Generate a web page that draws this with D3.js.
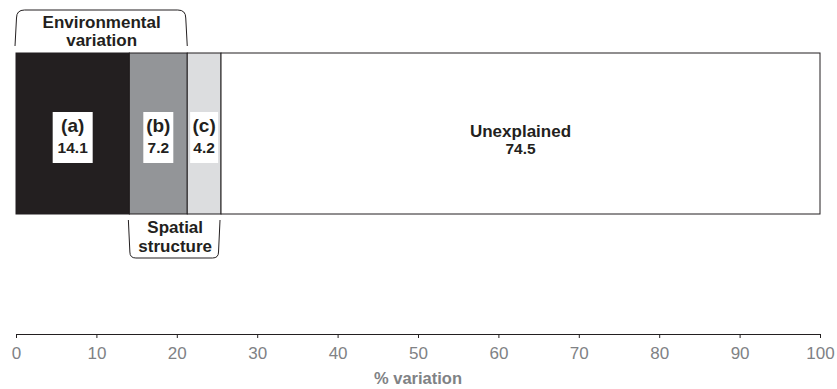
<!DOCTYPE html>
<html>
<head>
<meta charset="utf-8">
<script src="https://cdn.jsdelivr.net/npm/d3@7"></script>
<style>
  body { margin: 0; background: #fff; }
  svg { font-family: "Liberation Sans", Arial, sans-serif; }
</style>
</head>
<body>
<div id="chart"></div>
<script>
var svgWidth = 837;
var svgHeight = 389;

// fractions of variation (%)
var parts = ["(a)", "(b)", "(c)", "Unexplained"];
var values = [14.1, 7.2, 4.2, 74.5];
var fills = ["#231f20", "#939598", "#dcdddf", "#ffffff"];
var xTicks = [0, 10, 20, 30, 40, 50, 60, 70, 80, 90, 100];

var x = d3.scaleLinear().domain([0, 100]).range([16, 820]);

var barTop = 53, barBottom = 214;
var ink = "#231f20";

var svg = d3.select("#chart").append("svg")
    .attr("width", svgWidth)
    .attr("height", svgHeight);

// stack the segments
var segs = [];
var acc = 0;
values.forEach(function(v, i) {
    segs.push({ name: parts[i], value: v, x0: acc, x1: acc + v, fill: fills[i] });
    acc += v;
});

svg.selectAll("rect.seg")
    .data(segs)
    .enter().append("rect")
    .attr("class", "seg")
    .attr("x", function(d) { return x(d.x0); })
    .attr("y", barTop)
    .attr("width", function(d) { return x(d.x1) - x(d.x0); })
    .attr("height", barBottom - barTop)
    .attr("fill", function(d) { return d.fill; })
    .attr("stroke", ink)
    .attr("stroke-width", 1);

// labels in white boxes for a, b, c
var labelled = segs.slice(0, 3);
var boxW = [40, 30, 28];
var lab = svg.selectAll("g.lab")
    .data(labelled)
    .enter().append("g")
    .attr("class", "lab")
    .attr("transform", function(d) {
        return "translate(" + ((x(d.x0) + x(d.x1)) / 2) + ",0)";
    });

lab.append("rect")
    .attr("x", function(d, i) { return -boxW[i] / 2; })
    .attr("y", 112)
    .attr("width", function(d, i) { return boxW[i]; })
    .attr("height", 51)
    .attr("fill", "#fff");

lab.append("text")
    .attr("y", 132)
    .attr("text-anchor", "middle")
    .style("font-size", "19px")
    .style("font-weight", "bold")
    .attr("fill", ink)
    .text(function(d) { return d.name; });

lab.append("text")
    .attr("y", 153)
    .attr("text-anchor", "middle")
    .style("font-size", "15.5px")
    .style("font-weight", "bold")
    .attr("fill", ink)
    .text(function(d) { return d.value.toFixed(1); });

// unexplained label
var un = segs[3];
var ux = (x(un.x0) + x(un.x1)) / 2;
svg.append("text")
    .attr("x", ux).attr("y", 137)
    .attr("text-anchor", "middle")
    .style("font-size", "17px").style("font-weight", "bold")
    .attr("fill", ink)
    .text(un.name);
svg.append("text")
    .attr("x", ux).attr("y", 154)
    .attr("text-anchor", "middle")
    .style("font-size", "15.5px").style("font-weight", "bold")
    .attr("fill", ink)
    .text(un.value.toFixed(1));

// brackets
var envEnd = values[0] + values[1];
var spStart = values[0];
var spEnd = values[0] + values[1] + values[2];

function topBracket(x0, x1, y0, y1) {
    var r = 8;
    return "M" + x0 + "," + y1 + " L" + (x0 + 1.5) + "," + (y0 + r) +
        " Q" + (x0 + 1.5) + "," + y0 + " " + (x0 + 1.5 + r) + "," + y0 +
        " L" + (x1 - 1.5 - r) + "," + y0 +
        " Q" + (x1 - 1.5) + "," + y0 + " " + (x1 - 1.5) + "," + (y0 + r) +
        " L" + x1 + "," + y1;
}
function bottomBracket(x0, x1, y0, y1) {
    var r = 6;
    return "M" + x0 + "," + y0 + " L" + (x0 + 1.5) + "," + (y1 - r) +
        " Q" + (x0 + 1.5) + "," + y1 + " " + (x0 + 1.5 + r) + "," + y1 +
        " L" + (x1 - 1.5 - r) + "," + y1 +
        " Q" + (x1 - 1.5) + "," + y1 + " " + (x1 - 1.5) + "," + (y1 - r) +
        " L" + x1 + "," + y0;
}

svg.append("path")
    .attr("d", topBracket(x(0) - 1, x(envEnd), 10, 46))
    .attr("fill", "none").attr("stroke", ink).attr("stroke-width", 1);

var envX = (x(0) + x(envEnd)) / 2;
svg.append("text")
    .attr("x", envX).attr("y", 28)
    .attr("text-anchor", "middle")
    .style("font-size", "17px").style("font-weight", "bold")
    .attr("fill", ink).text("Environmental");
svg.append("text")
    .attr("x", envX).attr("y", 46)
    .attr("text-anchor", "middle")
    .style("font-size", "17px").style("font-weight", "bold")
    .attr("fill", ink).text("variation");

svg.append("path")
    .attr("d", bottomBracket(x(spStart) - 1, x(spEnd) - 1, 220, 258))
    .attr("fill", "none").attr("stroke", ink).attr("stroke-width", 1);

var spX = (x(spStart) + x(spEnd)) / 2;
svg.append("text")
    .attr("x", spX).attr("y", 233)
    .attr("text-anchor", "middle")
    .style("font-size", "17px").style("font-weight", "bold")
    .attr("fill", ink).text("Spatial");
svg.append("text")
    .attr("x", spX).attr("y", 252)
    .attr("text-anchor", "middle")
    .style("font-size", "17px").style("font-weight", "bold")
    .attr("fill", ink).text("structure");

// x axis
var axis = svg.append("g")
    .attr("class", "x-axis")
    .attr("transform", "translate(0,334)")
    .call(d3.axisBottom(x).tickValues(xTicks).tickSize(4).tickSizeOuter(0).tickPadding(9));
axis.select(".domain").attr("stroke", ink);
axis.selectAll(".tick line").attr("stroke", ink);
axis.selectAll(".tick text")
    .attr("fill", "#808285")
    .style("font-size", "17px")
    .style("font-family", "'Liberation Sans', Arial, sans-serif");

svg.append("text")
    .attr("x", x(50)).attr("y", 384)
    .attr("text-anchor", "middle")
    .style("font-size", "16.5px").style("font-weight", "bold")
    .attr("fill", "#808285")
    .text("% variation");
</script>
</body>
</html>
